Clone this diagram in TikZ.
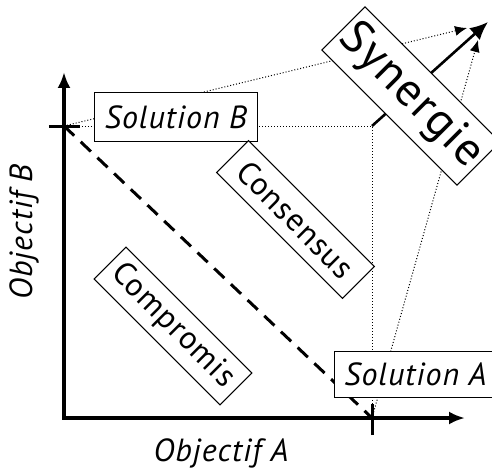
\documentclass[tikz,border=0pt]{standalone}
\usepackage{fontspec}
\setmainfont{PT Sans}[LetterSpace=3]
\usetikzlibrary{arrows.meta}

\begin{document}
\begin{tikzpicture}[x=0.5pt, y=0.5pt,
    box/.style={draw, line width=0.5pt, fill=white, inner sep=0pt, font=\fontsize{16}{19}\selectfont},
    axis/.style={line width=2pt},
    tick/.style={line width=1.5pt},
    guide/.style={line width=0.5pt, dash pattern=on 0.5pt off 1pt}]
    \useasboundingbox (-64,-54) rectangle (428,418);

    % Key points
    \coordinate (O) at (0,0);
    \coordinate (yTip) at (0,346);
    \coordinate (xTip) at (401,0);
    \coordinate (B) at (0,292);
    \coordinate (A) at (308,0);
    \coordinate (S) at (308,292);
    \coordinate (sTip) at (424,396);
    \coordinate (bTip) at (403,390);
    \coordinate (aTip) at (414,378);

    % Guide lines
    \draw[guide] (B) -- (S) -- (A);
    \draw[guide, -{Latex[length=6pt, width=5pt]}] (B) -- (bTip);
    \draw[guide, -{Latex[length=6pt, width=5pt]}] (A) -- (aTip);
    \draw[line width=1.3pt, -{Latex[length=9pt, width=8pt]}] (S) -- (sTip);
    \draw[line width=1.5pt, dash pattern=on 7pt off 4.5pt] (B) -- (A);

    % Axes
    \draw[axis, {Latex[length=8pt, width=6.5pt]}-{Latex[length=8pt, width=6.5pt]}] (yTip) -- (O) -- (xTip);
    \draw[tick] (B) ++(-15,0) -- ++(31,0);
    \draw[tick] (A) ++(0,-17) -- ++(0,31);

    % Axis labels
    \node[font=\fontsize{16}{19}\selectfont\itshape] (labA) at (157,-35) {Objectif A};
    \node[font=\fontsize{16}{19}\selectfont\itshape, rotate=90] (labB) at (-40,186) {Objectif B};

    % Solutions
    \node[box, minimum width=81.5pt, minimum height=24pt] (solB) at (112,301) {\itshape Solution B};
    \node[box, minimum width=81.5pt, minimum height=23pt] (solA) at (351.5,44) {\itshape Solution A};

    % Outcomes
    \node[box, rotate=-45, minimum width=89pt, minimum height=22.5pt] (comp) at (109,92) {Compromis};
    \node[box, rotate=-45, minimum width=89pt, minimum height=22.5pt] (cons) at (231.5,198.5) {Consensus};
    \node[box, rotate=-45, minimum width=95.5pt, minimum height=30.5pt, font=\fontsize{23.5}{28}\selectfont] (syn) at (347,322) {Synergie};
\end{tikzpicture}
\end{document}
